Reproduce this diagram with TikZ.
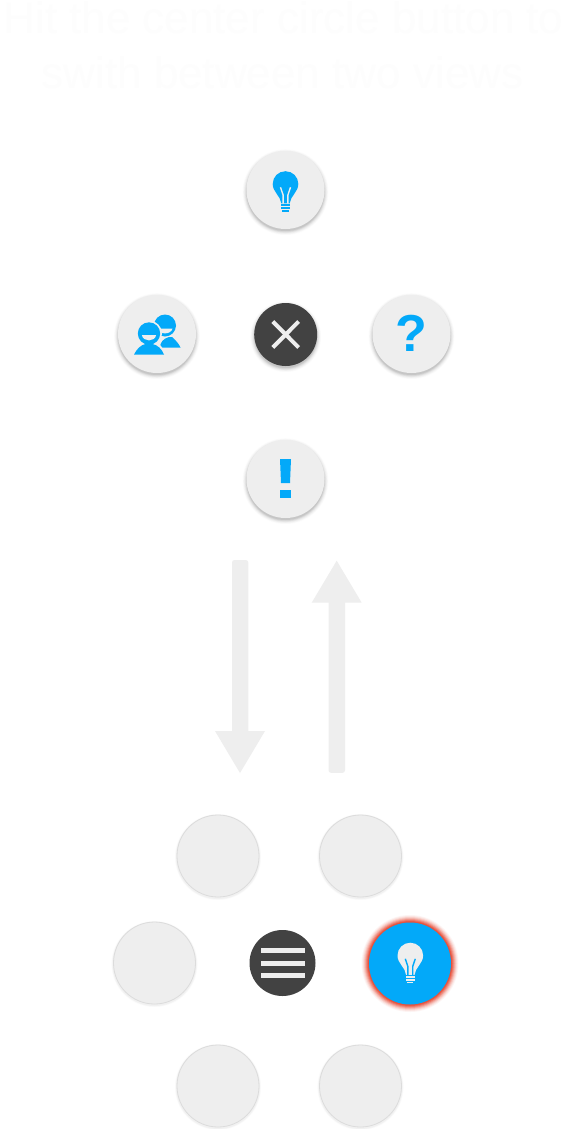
\documentclass[tikz,border=0pt]{standalone}
\usepackage{fontspec}
\setmainfont{Liberation Sans}
\definecolor{btngray}{HTML}{EEEEEE}
\definecolor{btndark}{HTML}{424242}
\definecolor{iconblue}{HTML}{03A9F9}
\definecolor{glowred}{HTML}{E8503A}
\definecolor{ghosttext}{HTML}{FDFDFD}
\definecolor{ringgray}{HTML}{DCDCDC}
\tikzset{
  lightbtn/.style={circle,inner sep=0pt,minimum size=78pt,fill=btngray},
  darkbtn/.style={circle,inner sep=0pt,fill=btndark},
  plainbtn/.style={circle,inner sep=0pt,minimum size=82pt,fill=btngray,draw=ringgray,line width=0.8pt},
  activebtn/.style={circle,inner sep=0pt,minimum size=82pt,fill=iconblue},
  bigarrow/.style={fill=btngray,draw=none},
  headline/.style={text=ghosttext,font=\fontsize{44pt}{54pt}\selectfont,anchor=base,inner sep=0pt},
  qmark/.style={text=iconblue,font=\fontsize{52pt}{52pt}\selectfont\bfseries,inner sep=0pt}
}
% soft drop shadow: center x, y, radius
\newcommand\softshadow[3]{%
  \foreach \d/\o in {4.5/.012,3.8/.018,3.1/.024,2.4/.03,1.7/.04,1/.05,0.3/.06}{
    \fill[black,opacity=\o] (#1,#2+2.2) circle[radius=#3+\d];
  }}
% faint shadow for the plain lower buttons
\newcommand\faintshadow[2]{%
  \foreach \d/\o in {2.2/.012,1.6/.018,1/.025}{
    \fill[black,opacity=\o] (#1,#2+1) circle[radius=41+\d];
  }}
% bulb icon: head centre x, y, body colour, filament colour
\newcommand\bulbicon[4]{%
  \begin{scope}[shift={(#1,#2)}]
    \fill[#3] (-4.2,19.4) .. controls (-4.8,12) and (-12.8,8) .. (-12.8,0)
      .. controls (-12.8,-7.1) and (-7.1,-12.8) .. (0,-12.8)
      .. controls (7.1,-12.8) and (12.8,-7.1) .. (12.8,0)
      .. controls (12.8,8) and (4.8,12) .. (4.2,19.4) -- cycle;
    \draw[#4,line width=1.4pt] (-5,3.3) -- (-2.4,11) -- (-2.4,19.6);
    \draw[#4,line width=1.4pt] (5,3.3) -- (2.4,11) -- (2.4,19.6);
    \fill[#3] (-4.6,20.4) rectangle (4.6,22.2);
    \fill[#3] (-4.6,23.2) rectangle (4.6,25);
    \fill[#3] (-3.1,26) rectangle (3.1,27.8);
  \end{scope}}
\begin{document}
\begin{tikzpicture}[x=1pt,y=-1pt]
\useasboundingbox (0,0) rectangle (567,1129);
\fill[white] (0,0) rectangle (567,1129);

% headline
\node[headline] (line1) at (283.5,34) {Hit the center circle button to};
\node[headline] (line2) at (282.5,88.5) {swith between two views};

% upper view
\softshadow{285.5}{190}{38.5}
\softshadow{157}{334}{38.5}
\softshadow{411.5}{334}{38.5}
\softshadow{285.5}{479}{38.5}
\softshadow{285.7}{334.5}{31}
\node[lightbtn] (top) at (285.5,190) {};
\node[lightbtn] (people) at (157,334) {};
\node[darkbtn,minimum size=63pt] (close) at (285.7,334.5) {};
\node[lightbtn] (question) at (411.5,334) {};
\node[lightbtn] (alert) at (285.5,479) {};

\bulbicon{285.5}{184}{iconblue}{btngray}

% people icon
\fill[iconblue] (165,325.5) circle[radius=11];
\fill[btngray] (157.5,328.5) .. controls (159,335) and (171,335) .. (172.5,328.5) -- cycle;
\fill[iconblue] (160,347.5) .. controls (160,343) and (163,338.5) .. (169,337)
  -- (172,337) .. controls (175.5,340) and (179,344) .. (180.5,347.5) -- cycle;
\fill[btngray] (149,333.5) circle[radius=13];
\fill[btngray] (132,354.5) -- (165.5,354.5) .. controls (163,346) and (157,341) .. (150,341) .. controls (142,341) and (135,347) .. (132,354.5) -- cycle;
\fill[iconblue] (149,333.5) circle[radius=11.2];
\fill[btngray] (141.8,335) .. controls (143.2,342.2) and (154.8,342.2) .. (156.2,335) -- cycle;
\fill[iconblue] (134,354.5) .. controls (137,348.5) and (141,345) .. (145.5,344)
  -- (152.5,344) .. controls (157.5,345) and (162,349) .. (164,354.5) -- cycle;

% close icon
\draw[btngray,line width=4pt] (272.8,321.5) -- (298.6,347.5);
\draw[btngray,line width=4pt] (272.8,347.5) -- (298.6,321.5);

% question and exclamation marks
\node[qmark] (qglyph) at (411.5,333) {?};
\fill[iconblue] (280,459) -- (291,459) -- (290,483) -- (281,483) -- cycle;
\fill[iconblue] (280,490) rectangle (291,498.3);

% transition arrows
\fill[bigarrow] (232,731) [rounded corners=2.5pt] -- (232,560) -- (248.3,560) [sharp corners] -- (248.3,731)
  -- (265,731) -- (240,773) -- (215,731) -- cycle;
\fill[bigarrow] (328.5,602.7) [rounded corners=2.5pt] -- (328.5,772.8) -- (345,772.8) [sharp corners] -- (345,602.7)
  -- (361.7,602.7) -- (336.7,560.7) -- (311.7,602.7) -- cycle;

% lower view
\faintshadow{218}{856}
\faintshadow{360.5}{856}
\faintshadow{154.5}{963}
\faintshadow{218}{1086}
\faintshadow{360.5}{1086}
\node[plainbtn] (tl) at (218,856) {};
\node[plainbtn] (tr) at (360.5,856) {};
\node[plainbtn] (ml) at (154.5,963) {};
\node[plainbtn] (bl) at (218,1086) {};
\node[plainbtn] (br) at (360.5,1086) {};

\node[darkbtn,minimum size=66pt] (menu) at (282.5,963) {};
\fill[btngray] (261,948.3) rectangle (305,953.3);
\fill[btngray] (261,960.7) rectangle (305,965.7);
\fill[btngray] (261,972.9) rectangle (305,977.9);

\foreach \d/\o in {7.5/.06,6.5/.09,5.5/.14,4.5/.2,3.5/.3,2.5/.45,1.5/.7,0.8/.9}{
  \fill[glowred,opacity=\o] (410,963.5) circle[radius=41+\d];
}
\node[activebtn] (active) at (410,963.5) {};
\bulbicon{410.3}{955.5}{btngray}{iconblue}
\end{tikzpicture}
\end{document}
